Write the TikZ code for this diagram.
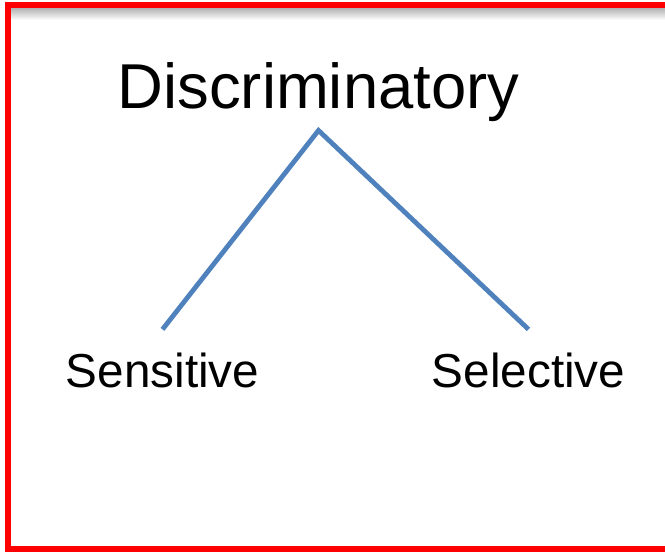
\documentclass[tikz,border=0pt]{standalone}
\usepackage{fontspec}
\setmainfont{Liberation Sans}
\definecolor{branchblue}{RGB}{79,129,189}
\tikzset{
  bigword/.style={font=\fontsize{45.1}{50}\selectfont, inner xsep=0pt, inner ysep=0.225cm},
  leafword/.style={font=\fontsize{33.9}{38}\selectfont, inner xsep=0pt, inner ysep=0.57cm},
  branch/.style={draw=branchblue, line width=0.12cm},
  frame/.style={draw=red, line width=0.17cm}
}
\begin{document}
\begin{tikzpicture}[x=0.025cm, y=-0.025cm]

\useasboundingbox (0,0) rectangle (665,552);

% shadow under the top edge
\shade[top color=black!30, bottom color=white] (11,8) rectangle (665,20);

\draw[frame] (665,5) -- (8,5) -- (8,549) -- (665,549);

\draw (318.5,108) node[bigword, anchor=base] (disc) {Discriminatory};

\draw (162.5,387) node[leafword, anchor=base] (sens) {Sensitive};

\draw (528.5,387) node[leafword, anchor=base] (sel) {Selective};

\draw[branch] (sens.north) -- (disc.south) -- (sel.north);

\end{tikzpicture}
\end{document}
